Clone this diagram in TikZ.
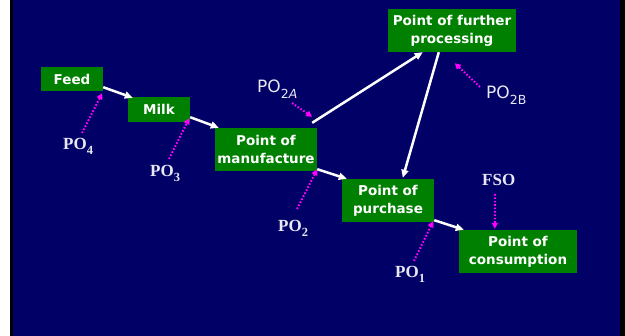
\documentclass[tikz,border=0pt]{standalone}
\usepackage{fontspec}
\usetikzlibrary{arrows.meta,calc}
\newfontfamily\boxfont{DejaVu Sans}
\newfontfamily\labsans{DejaVu Sans}
\newfontfamily\labserif{Liberation Serif}
\definecolor{navy}{RGB}{0,0,102}
\definecolor{boxgreen}{RGB}{0,128,0}
\definecolor{dotmag}{RGB}{255,0,255}
\definecolor{labtext}{RGB}{232,232,242}
\tikzset{
  stage/.style={fill=boxgreen, text=white, inner sep=0pt, align=center,
    minimum height=43pt, font=\boxfont\bfseries\fontsize{13.5}{18}\selectfont},
  flow/.style={draw=white, line width=2.5pt, -{Triangle[length=8pt,width=7pt]}},
  check/.style={draw=dotmag, line width=2pt, dash pattern=on 1.6pt off 1.8pt,
    -{Triangle[length=6pt,width=6pt]}},
  serlab/.style={anchor=base west, inner sep=0pt, text=labtext,
    font=\labserif\bfseries\fontsize{17}{17}\selectfont},
  sanlab/.style={anchor=base west, inner sep=0pt, text=labtext,
    font=\labsans\fontsize{17}{17}\selectfont}
}
\newcommand{\subsc}[1]{\raisebox{-5pt}{\fontsize{12.5}{12.5}\selectfont #1}}
\begin{document}
\begin{tikzpicture}[x=1pt,y=-1pt]
\useasboundingbox (0,0) rectangle (625,336);
\fill[white] (0,0) rectangle (10,336);
\fill[black] (10,0) rectangle (13,336);
\fill[navy] (13,0) rectangle (620,336);
\fill[black] (620,0) rectangle (625,336);

% stages
\node[stage, minimum width=62pt, minimum height=24pt] (feed) at (72,79) {Feed};
\node[stage, minimum width=62pt, minimum height=25pt] (milk) at (159,109.5) {Milk};
\node[stage, minimum width=102pt] (manu) at (266,149.5) {Point of\\manufacture};
\node[stage, minimum width=128pt] (further) at (452,30.5) {Point of further\\processing};
\node[stage, minimum width=92pt] (purch) at (388,200.5) {Point of\\purchase};
\node[stage, minimum width=118pt] (cons) at (518,251.5) {Point of\\consumption};

% flow arrows
\draw[flow] ($(feed.south east)+(0,-4)$) -- ($(milk.north west)+(5,1)$);
\draw[flow] ($(milk.south east)+(0,-5)$) -- ($(manu.north west)+(4,0)$);
\draw[flow] ($(manu.north east)+(-5,-5)$) -- ($(further.south west)+(35,0)$);
\draw[flow] ($(further.south west)+(51,0)$) -- ($(purch.north west)+(61,-1)$);
\draw[flow] ($(manu.south east)+(0,-2)$) -- ($(purch.north west)+(5,0)$);
\draw[flow] ($(purch.south east)+(0,-2)$) -- ($(cons.north west)+(5,0)$);

% labels
\node[serlab] (po4) at (63,150) {PO\subsc{4}};
\node[serlab] (po3) at (150,177) {PO\subsc{3}};
\node[serlab] (po2) at (278,232) {PO\subsc{2}};
\node[serlab] (po1) at (395,278) {PO\subsc{1}};
\node[serlab] (fso) at (482,186) {FSO};
\node[sanlab] (po2a) at (257,93) {PO\raisebox{-6pt}{\fontsize{12.5}{12.5}\selectfont 2\textit{A}}};
\node[sanlab] (po2b) at (486,99) {PO\raisebox{-6pt}{\fontsize{12.5}{12.5}\selectfont 2B}};

% dotted check arrows
\draw[check] ($(po4.base west)+(19,-17)$) -- ($(feed.south east)+(-1,2)$);
\draw[check] ($(po3.base west)+(19,-18)$) -- ($(milk.south east)+(-1,-4)$);
\draw[check] ($(po2a.base west)+(35,10)$) -- ($(manu.north east)+(-5,-11)$);
\draw[check] ($(po2b.base west)+(-6,-12)$) -- ($(further.south west)+(67,11)$);
\draw[check] ($(po2.base west)+(19,-23)$) -- ($(manu.south east)+(0,-2)$);
\draw[check] ($(po1.base west)+(19,-17)$) -- ($(purch.south east)+(-1,-1)$);
\draw[check] ($(fso.base west)+(13,8)$) -- ($(cons.north west)+(36,-1)$);
\end{tikzpicture}
\end{document}
